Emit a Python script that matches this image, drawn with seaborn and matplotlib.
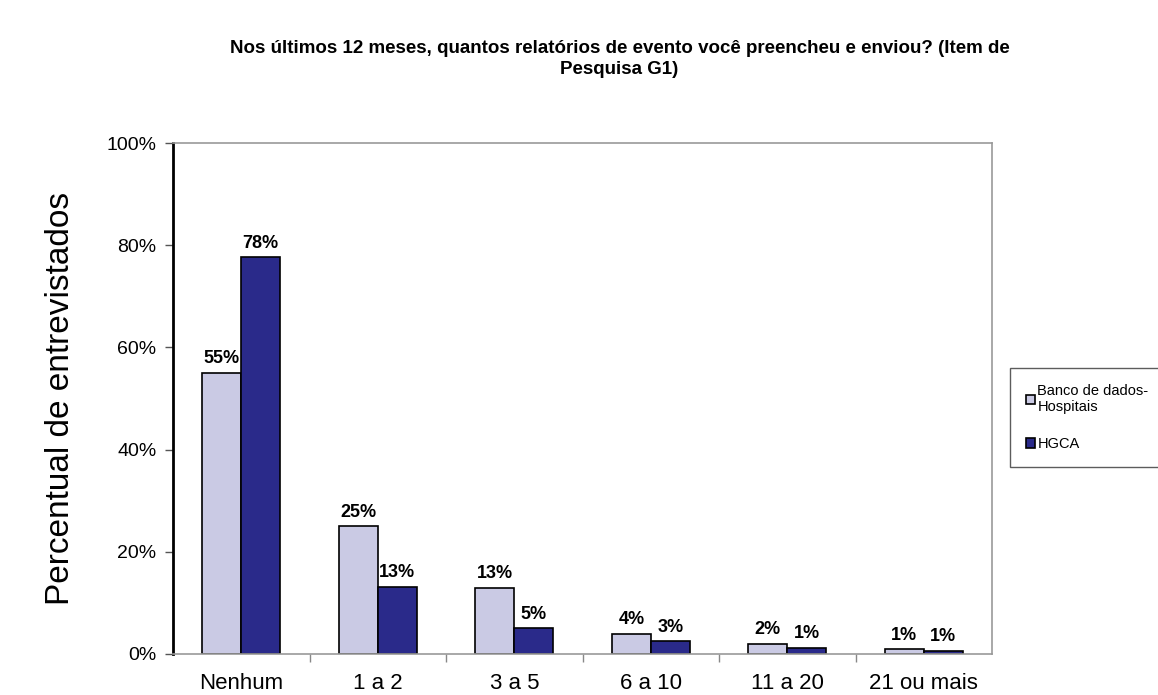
import matplotlib
matplotlib.use("Agg")
import matplotlib.pyplot as plt
import seaborn as sns
import pandas as pd
import numpy as np
from matplotlib.ticker import FixedLocator
from matplotlib.patches import Patch

sns.set_theme(style="white")
plt.rcParams['font.family'] = ['Liberation Sans', 'DejaVu Sans']
plt.rcParams['text.color'] = 'black'
plt.rcParams['axes.labelcolor'] = 'black'
plt.rcParams['xtick.color'] = 'black'
plt.rcParams['ytick.color'] = 'black'

categories = ["Nenhum", "1 a 2", "3 a 5", "6 a 10", "11 a 20", "21 ou mais"]
series_names = ["Banco de dados-\nHospitais", "HGCA"]
banco_values = [55, 25, 13, 4, 2, 0.9]
hgca_values = [77.6, 13.2, 5, 2.5, 1.2, 0.6]
banco_labels = ["55%", "25%", "13%", "4%", "2%", "1%"]
hgca_labels = ["78%", "13%", "5%", "3%", "1%", "1%"]
y_ticks = [0, 20, 40, 60, 80, 100]

df = pd.DataFrame({
    "cat": categories * 2,
    "serie": [series_names[0]] * len(categories) + [series_names[1]] * len(categories),
    "val": banco_values + hgca_values,
})

fig = plt.figure(figsize=(11.58, 6.95), dpi=100)
ax = fig.add_axes([0.1494, 0.0590, 0.7073, 0.7352])

colors = ["#CACAE4", "#2A2A8A"]
sns.barplot(data=df, x="cat", y="val", hue="serie", palette=colors, ax=ax,
            width=0.57, edgecolor="black", linewidth=1.2, saturation=1, legend=False)

for cont, labs in zip(ax.containers, [banco_labels, hgca_labels]):
    ax.bar_label(cont, labels=labs, padding=4, fontsize=13, fontweight="bold")

ax.set_ylim(0, 100)
ax.set_xlim(-0.5, len(categories) - 0.5)
ax.set_yticks(y_ticks)
ax.set_yticklabels([f"{t}%" for t in y_ticks], fontsize=14)
ax.set_xticks(range(len(categories)))
ax.set_xticklabels(categories, fontsize=16)
ax.set_xlabel("")
ax.set_ylabel("Percentual de entrevistados", fontsize=24, labelpad=22)

ax.tick_params(axis="x", which="major", length=0, pad=14)
ax.xaxis.set_minor_locator(FixedLocator(np.arange(0.5, len(categories) - 0.5, 1)))
ax.tick_params(axis="x", which="minor", length=6, width=1, color="#888888", bottom=True)
ax.tick_params(axis="y", which="major", length=6, width=1, color="#555555", left=True, pad=6)

ax.spines["left"].set_linewidth(2)
ax.spines["left"].set_color("black")
for s in ["top", "right", "bottom"]:
    ax.spines[s].set_color("#999999")
    ax.spines[s].set_linewidth(1.2)

fig.text(0.535, 0.915, "Nos últimos 12 meses, quantos relatórios de evento você preencheu e enviou? (Item de\nPesquisa G1)",
         ha="center", va="center", fontsize=13.5, fontweight="bold", linespacing=1.35)

handles = [Patch(facecolor=c, edgecolor="black", linewidth=1.2) for c in colors]
leg = fig.legend(handles, series_names, loc="upper left", bbox_to_anchor=(0.872, 0.471),
                 fontsize=10.5, frameon=True, fancybox=False, handlelength=0.6, handleheight=0.6,
                 handletextpad=0.2, labelspacing=1.6, borderpad=1.1, borderaxespad=0)
leg.get_frame().set_edgecolor("#333333")
leg.get_frame().set_linewidth(1.0)

fig.savefig("out.png", dpi=100)
